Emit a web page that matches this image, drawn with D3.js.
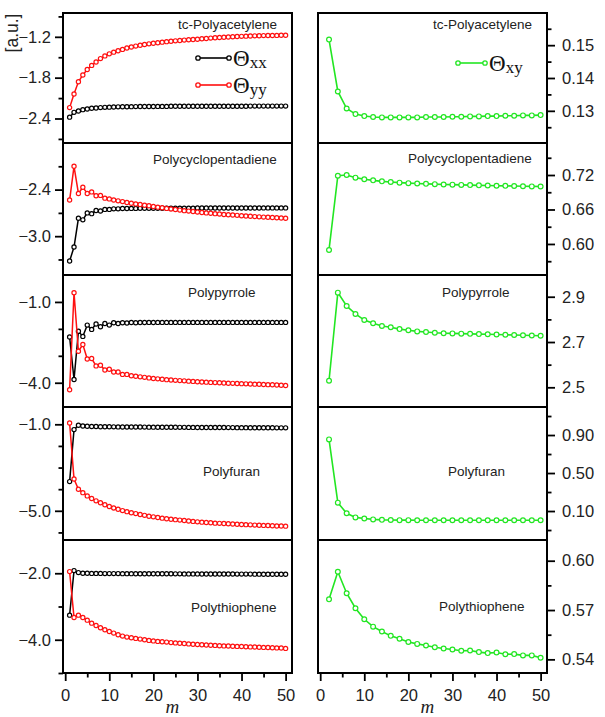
<!DOCTYPE html>
<html>
<head>
<meta charset="utf-8">
<script src="https://cdn.jsdelivr.net/npm/d3@7"></script>
<style>
  body { margin: 0; background: #fff; }
  svg { display: block; }
  .tick text { font-family: "Liberation Sans", Arial, sans-serif; font-size: 16.5px; fill: #222; }
  .tick line { stroke: #000; stroke-width: 1.8; }
</style>
</head>
<body>
<script>
// polymer names, one row each
const polymers = ["tc-Polyacetylene", "Polycyclopentadiene", "Polypyrrole", "Polyfuran", "Polythiophene"];

// chain length m (left: every m, right: even m)
const mAll = d3.range(1, 51);
const mEven = d3.range(2, 51, 2);
const xMajor = [0, 10, 20, 30, 40, 50];
const xMinor = [5, 15, 25, 35, 45];

// Theta_xx
const thetaXX = [
  [-2.38,-2.31,-2.29,-2.27,-2.26,-2.25,-2.245,-2.24,-2.236,-2.233,
   -2.231,-2.229,-2.228,-2.227,-2.226,-2.225,-2.224,-2.224,-2.223,-2.223,
   -2.222,-2.222,-2.222,-2.221,-2.221,-2.221,-2.221,-2.220,-2.220,-2.220,
   -2.220,-2.220,-2.220,-2.219,-2.219,-2.219,-2.219,-2.219,-2.219,-2.219,
   -2.219,-2.218,-2.218,-2.218,-2.218,-2.218,-2.218,-2.218,-2.218,-2.218],
  [-3.32,-3.14,-2.77,-2.79,-2.70,-2.71,-2.67,-2.675,-2.655,-2.655,
   -2.648,-2.648,-2.644,-2.644,-2.642,-2.642,-2.641,-2.641,-2.640,-2.640,
   -2.640,-2.640,-2.640,-2.639,-2.639,-2.639,-2.639,-2.639,-2.639,-2.638,
   -2.638,-2.638,-2.638,-2.638,-2.638,-2.638,-2.637,-2.637,-2.637,-2.637,
   -2.637,-2.637,-2.637,-2.637,-2.636,-2.636,-2.636,-2.636,-2.636,-2.636],
  [-2.30,-3.88,-2.09,-2.28,-1.86,-2.02,-1.82,-1.92,-1.80,-1.86,
   -1.77,-1.80,-1.77,-1.78,-1.765,-1.77,-1.762,-1.765,-1.76,-1.762,
   -1.76,-1.76,-1.76,-1.76,-1.76,-1.76,-1.76,-1.76,-1.76,-1.76,
   -1.76,-1.76,-1.76,-1.76,-1.76,-1.76,-1.76,-1.76,-1.76,-1.76,
   -1.76,-1.76,-1.76,-1.76,-1.76,-1.76,-1.76,-1.76,-1.76,-1.76],
  [-3.65,-1.245,-1.046,-1.077,-1.09,-1.10,-1.105,-1.11,-1.113,-1.116,
   -1.118,-1.12,-1.122,-1.124,-1.125,-1.127,-1.128,-1.13,-1.131,-1.132,
   -1.134,-1.135,-1.136,-1.138,-1.139,-1.14,-1.141,-1.143,-1.144,-1.145,
   -1.146,-1.147,-1.148,-1.149,-1.15,-1.151,-1.152,-1.153,-1.154,-1.155,
   -1.156,-1.157,-1.158,-1.159,-1.16,-1.161,-1.162,-1.163,-1.164,-1.165],
  [-3.26,-1.92,-1.98,-2.0,-2.0,-2.005,-2.005,-2.005,-2.01,-2.01,
   -2.01,-2.01,-2.012,-2.012,-2.012,-2.014,-2.014,-2.014,-2.015,-2.015,
   -2.016,-2.016,-2.017,-2.017,-2.018,-2.018,-2.019,-2.019,-2.02,-2.02,
   -2.021,-2.021,-2.022,-2.022,-2.023,-2.023,-2.024,-2.024,-2.025,-2.025,
   -2.026,-2.026,-2.027,-2.027,-2.028,-2.028,-2.029,-2.029,-2.03,-2.03]
];

// Theta_yy
const thetaYY = [
  [-2.24,-2.04,-1.86,-1.76,-1.68,-1.62,-1.57,-1.52,-1.48,-1.45,
   -1.425,-1.405,-1.385,-1.365,-1.35,-1.336,-1.324,-1.313,-1.303,-1.294,
   -1.286,-1.278,-1.271,-1.265,-1.259,-1.253,-1.248,-1.243,-1.239,-1.235,
   -1.229,-1.224,-1.219,-1.214,-1.21,-1.206,-1.202,-1.199,-1.196,-1.193,
   -1.19,-1.188,-1.186,-1.184,-1.182,-1.181,-1.18,-1.179,-1.178,-1.177],
  [-2.535,-2.10,-2.45,-2.37,-2.45,-2.43,-2.48,-2.475,-2.51,-2.52,
   -2.535,-2.545,-2.555,-2.565,-2.575,-2.584,-2.593,-2.601,-2.609,-2.617,
   -2.626,-2.634,-2.642,-2.65,-2.657,-2.664,-2.671,-2.677,-2.683,-2.689,
   -2.695,-2.70,-2.705,-2.71,-2.715,-2.72,-2.724,-2.728,-2.732,-2.736,
   -2.74,-2.744,-2.748,-2.751,-2.754,-2.757,-2.76,-2.763,-2.766,-2.769],
  [-4.26,-0.66,-2.83,-2.58,-3.12,-3.10,-3.375,-3.35,-3.527,-3.50,
   -3.60,-3.60,-3.69,-3.69,-3.74,-3.76,-3.78,-3.80,-3.82,-3.84,
   -3.855,-3.87,-3.885,-3.90,-3.91,-3.92,-3.93,-3.94,-3.95,-3.96,
   -3.97,-3.978,-3.986,-3.994,-4.00,-4.01,-4.016,-4.022,-4.028,-4.034,
   -4.04,-4.046,-4.052,-4.058,-4.064,-4.07,-4.076,-4.082,-4.09,-4.10],
  [-0.94,-3.53,-4.0,-4.16,-4.31,-4.43,-4.54,-4.63,-4.72,-4.80,
   -4.87,-4.93,-4.99,-5.04,-5.09,-5.13,-5.17,-5.21,-5.25,-5.28,
   -5.31,-5.34,-5.37,-5.39,-5.41,-5.43,-5.45,-5.47,-5.49,-5.51,
   -5.525,-5.54,-5.555,-5.57,-5.58,-5.59,-5.60,-5.61,-5.62,-5.63,
   -5.64,-5.65,-5.66,-5.67,-5.675,-5.68,-5.69,-5.70,-5.705,-5.71],
  [-1.95,-3.33,-3.26,-3.33,-3.41,-3.50,-3.57,-3.64,-3.70,-3.75,
   -3.80,-3.85,-3.89,-3.92,-3.94,-3.96,-3.98,-4.0,-4.02,-4.035,
   -4.05,-4.06,-4.07,-4.085,-4.095,-4.105,-4.115,-4.125,-4.135,-4.145,
   -4.15,-4.16,-4.165,-4.17,-4.18,-4.185,-4.19,-4.195,-4.20,-4.205,
   -4.21,-4.215,-4.22,-4.225,-4.23,-4.235,-4.24,-4.245,-4.25,-4.26]
];

// Theta_xy (even m only)
const thetaXY = [
  [0.1517,0.1359,0.1307,0.1290,0.1284,0.1281,0.1280,0.1280,0.1280,0.1280,
   0.1280,0.1281,0.1281,0.1281,0.1282,0.1282,0.1283,0.1283,0.1284,0.1284,
   0.1285,0.1285,0.1286,0.1286,0.1287],
  [0.5896,0.7188,0.7200,0.7154,0.7125,0.7107,0.709,0.7078,0.7067,0.7058,
   0.7052,0.7046,0.7041,0.7036,0.7032,0.7028,0.7024,0.702,0.7017,0.7014,
   0.7011,0.7008,0.7005,0.7002,0.7],
  [2.529,2.918,2.859,2.824,2.797,2.783,2.771,2.765,2.757,2.752,
   2.747,2.744,2.741,2.739,2.738,2.737,2.736,2.735,2.734,2.733,
   2.732,2.731,2.730,2.729,2.728],
  [0.854,0.188,0.076,0.033,0.022,0.012,0.007,0.005,0.004,0.004,
   0.003,0.003,0.003,0.003,0.003,0.003,0.003,0.003,0.003,0.003,
   0.003,0.003,0.003,0.003,0.003],
  [0.5765,0.5933,0.5802,0.5711,0.5644,0.5599,0.5569,0.5543,0.5525,0.5506,
   0.5494,0.5484,0.5474,0.5466,0.5460,0.5452,0.5454,0.5444,0.5438,0.5442,
   0.5431,0.5432,0.5424,0.5424,0.5410]
];

// y axis ranges and tick labels, left column
const leftDomains = [[-2.76, -0.85], [-3.5, -1.8], [-4.9, 0.0], [-6.35, -0.2], [-5.0, -1.0]];
const leftMajor = [[-2.4, -1.8, -1.2], [-3.0, -2.4], [-4.0, -1.0], [-5.0, -1.0], [-4.0, -2.0]];
const leftMinor = [[-2.7, -2.1, -1.5, -0.9], [-3.3, -2.7, -2.1], [-3.0, -2.0], [-6.0, -4.0, -3.0, -2.0], [-5.0, -3.0]];

// y axis ranges and tick labels, right column
const rightDomains = [[0.1202, 0.1598], [0.546, 0.7757], [2.413, 2.996], [-0.205, 1.195], [0.5317, 0.6126]];
const rightMajor = [[0.13, 0.14, 0.15], [0.60, 0.66, 0.72], [2.5, 2.7, 2.9], [0.10, 0.50, 0.90], [0.54, 0.57, 0.60]];
const rightMinor = [[0.125, 0.135, 0.145, 0.155], [0.57, 0.63, 0.69, 0.75], [2.6, 2.8], [-0.1, 0.3, 0.7, 1.1], [0.555, 0.585]];
const rightFormat = [".2f", ".2f", ".1f", ".2f", ".2f"];

// layout
const W = 605, H = 717;
const rowEdges = [13, 143, 275, 407, 540, 673];
const leftCol = [63, 292];
const rightCol = [318, 547];
const xDomain = [-0.5, 51.45];
// name label: [x start, baseline offset from row top] for left / right
const nameLeft = [[178, 16], [153, 21], [188, 22], [203, 69], [191, 72]];
const nameRight = [[433, 16], [408, 20], [442, 22], [448, 69], [439, 71]];

const colXX = "#000000", colYY = "#ff1010", colXY = "#22e622";
const sans = "'Liberation Sans', Arial, sans-serif";
const serif = "'Liberation Serif', 'Times New Roman', serif";

const svg = d3.select("body").append("svg")
    .attr("width", W)
    .attr("height", H);

const xL = d3.scaleLinear().domain(xDomain).range(leftCol);
const xR = d3.scaleLinear().domain(xDomain).range(rightCol);

function drawSeries(g, x, y, xs, ys, color, r, lw) {
    const pts = xs.map((m, k) => [m, ys[k]]);
    g.append("path")
        .datum(pts)
        .attr("fill", "none")
        .attr("stroke", color)
        .attr("stroke-width", lw)
        .attr("d", d3.line().x(d => x(d[0])).y(d => y(d[1])));
    g.selectAll(null)
        .data(pts)
        .enter()
        .append("circle")
        .attr("cx", d => x(d[0]))
        .attr("cy", d => y(d[1]))
        .attr("r", r)
        .attr("fill", "#fff")
        .attr("stroke", color)
        .attr("stroke-width", 1.2);
}

function styleAxis(sel) {
    sel.select(".domain").remove();
}

polymers.forEach((name, i) => {
    const top = rowEdges[i], bot = rowEdges[i + 1];

    // ---- left panel: Theta_xx and Theta_yy
    const yL = d3.scaleLinear().domain(leftDomains[i]).range([bot, top]);
    const gL = svg.append("g");
    drawSeries(gL, xL, yL, mAll, thetaXX[i], colXX, 2.1, 1.5);
    drawSeries(gL, xL, yL, mAll, thetaYY[i], colYY, 2.1, 1.5);

    gL.append("g")
        .attr("transform", `translate(${leftCol[0]},0)`)
        .call(d3.axisLeft(yL).tickValues(leftMajor[i]).tickSize(8).tickPadding(4).tickFormat(d3.format(".1f")))
        .call(styleAxis);
    gL.append("g")
        .attr("transform", `translate(${leftCol[0]},0)`)
        .call(d3.axisLeft(yL).tickValues(leftMinor[i]).tickSize(4.5).tickFormat(""))
        .call(styleAxis);

    gL.append("rect")
        .attr("x", leftCol[0]).attr("y", top)
        .attr("width", leftCol[1] - leftCol[0]).attr("height", bot - top)
        .attr("fill", "none").attr("stroke", "#000").attr("stroke-width", 2);

    gL.append("text")
        .attr("x", nameLeft[i][0]).attr("y", top + nameLeft[i][1])
        .attr("font-family", sans).attr("font-size", 13.5).attr("fill", "#222")
        .text(name);

    // ---- right panel: Theta_xy
    const yR = d3.scaleLinear().domain(rightDomains[i]).range([bot, top]);
    const gR = svg.append("g");
    drawSeries(gR, xR, yR, mEven, thetaXY[i], colXY, 2.4, 1.6);

    gR.append("g")
        .attr("transform", `translate(${rightCol[1]},0)`)
        .call(d3.axisRight(yR).tickValues(rightMajor[i]).tickSize(8).tickPadding(7).tickFormat(d3.format(rightFormat[i])))
        .call(styleAxis);
    gR.append("g")
        .attr("transform", `translate(${rightCol[1]},0)`)
        .call(d3.axisRight(yR).tickValues(rightMinor[i]).tickSize(4.5).tickFormat(""))
        .call(styleAxis);

    gR.append("rect")
        .attr("x", rightCol[0]).attr("y", top)
        .attr("width", rightCol[1] - rightCol[0]).attr("height", bot - top)
        .attr("fill", "none").attr("stroke", "#000").attr("stroke-width", 2);

    gR.append("text")
        .attr("x", nameRight[i][0]).attr("y", top + nameRight[i][1])
        .attr("font-family", sans).attr("font-size", 13.5).attr("fill", "#222")
        .text(name);
});

// bottom x axes
const yBottom = rowEdges[rowEdges.length - 1];
[xL, xR].forEach(x => {
    svg.append("g")
        .attr("transform", `translate(0,${yBottom})`)
        .call(d3.axisBottom(x).tickValues(xMajor).tickSize(8).tickPadding(8))
        .call(styleAxis);
    svg.append("g")
        .attr("transform", `translate(0,${yBottom})`)
        .call(d3.axisBottom(x).tickValues(xMinor).tickSize(4.5).tickFormat(""))
        .call(styleAxis);
    svg.append("text")
        .attr("x", x(25) - 3).attr("y", 713)
        .attr("text-anchor", "middle")
        .attr("font-family", serif).attr("font-style", "italic").attr("font-size", 19)
        .attr("fill", "#222")
        .text("m");
});

// y label
svg.append("text")
    .attr("transform", "translate(18,33) rotate(-90)")
    .attr("text-anchor", "middle")
    .attr("font-family", sans).attr("font-size", 17.5).attr("fill", "#222")
    .text("[a.u.]");

// legends
function legendItem(x0, x1, y, color, sub) {
    svg.append("line")
        .attr("x1", x0).attr("x2", x1).attr("y1", y).attr("y2", y)
        .attr("stroke", color).attr("stroke-width", 1.6);
    [x0, x1].forEach(cx => {
        svg.append("circle")
            .attr("cx", cx).attr("cy", y).attr("r", 2.2)
            .attr("fill", "#fff").attr("stroke", color).attr("stroke-width", 1.3);
    });
    const t = svg.append("text")
        .attr("x", x1 + 4).attr("y", y + 8)
        .attr("font-family", serif).attr("font-size", 23).attr("fill", "#111");
    t.append("tspan").text("\u0398");
    t.append("tspan").attr("dy", 2).attr("font-size", 17).text(sub);
}
legendItem(198, 229, 58, colXX, "xx");
legendItem(198, 229, 85, colYY, "yy");
legendItem(458, 485, 63, colXY, "xy");
</script>
</body>
</html>
